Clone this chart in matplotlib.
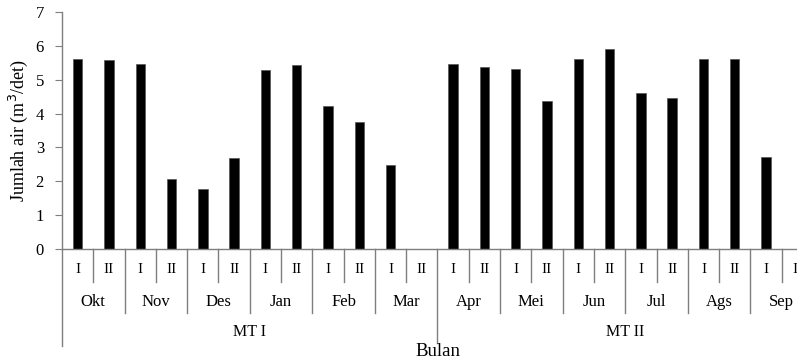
import matplotlib
matplotlib.use("Agg")
import matplotlib.pyplot as plt

months = ["Okt", "Nov", "Des", "Jan", "Feb", "Mar", "Apr", "Mei", "Jun", "Jul", "Ags", "Sep"]
periods = ["I", "II"]
seasons = ["MT I", "MT II"]
values = [5.62, 5.59, 5.46, 2.07, 1.77, 2.68, 5.28, 5.42, 4.22, 3.75, 2.48, 0.0,
          5.45, 5.39, 5.31, 4.37, 5.61, 5.92, 4.61, 4.45, 5.61, 5.61, 2.73, 0.0]
yticks = [0, 1, 2, 3, 4, 5, 6, 7]

plt.rcParams['font.family'] = ['Liberation Serif', 'DejaVu Serif']
gray = "#7f7f7f"

fig = plt.figure(figsize=(7.97, 3.64), dpi=100)
ax = fig.add_axes([62/797, 115/364, 751/797, 237/364])
x = list(range(len(values)))
ax.bar(x, values, width=0.3, color="black", edgecolor="#555555", linewidth=0.5)
ax.set_xlim(-0.5, len(values) - 0.5)
ax.set_ylim(0, 7)
ax.set_yticks(yticks)
ax.tick_params(axis='y', direction='out', length=5, color=gray, labelsize=12, pad=8)
ax.set_xticks([])
for s in ["top", "right"]:
    ax.spines[s].set_visible(False)
for s in ["left", "bottom"]:
    ax.spines[s].set_color(gray)
    ax.spines[s].set_linewidth(1.0)
ax.set_ylabel("Jumlah air (m$^3$/det)", fontsize=13, labelpad=4)

def ypx(py):
    return (249 - py) / 33.9

lk = dict(color=gray, lw=1.0, clip_on=False)
# period labels and separators
for i in range(len(values)):
    ax.text(i, ypx(270), periods[i % 2], ha="center", va="center", fontsize=11, clip_on=False)
    if i % 2 == 0:
        ax.plot([i + 0.5, i + 0.5], [0, ypx(282)], **lk)
# month labels and separators
for m, name in enumerate(months):
    ax.text(2 * m + 0.5, ypx(302), name, ha="center", va="center", fontsize=12, clip_on=False)
    b = 2 * m + 1.5
    if b == 11.5:
        ax.plot([b, b], [0, ypx(343)], **lk)
    else:
        ax.plot([b, b], [0, ypx(313)], **lk)
ax.plot([-0.5, -0.5], [0, ypx(346)], **lk)
# season labels
for k, s in enumerate(seasons):
    ax.text(12 * k + 5.5, ypx(332), s, ha="center", va="center", fontsize=11.5, clip_on=False)
ax.text(11.5, ypx(352), "Bulan", ha="center", va="center", fontsize=13.5, clip_on=False)

fig.savefig("out.png", dpi=100)
